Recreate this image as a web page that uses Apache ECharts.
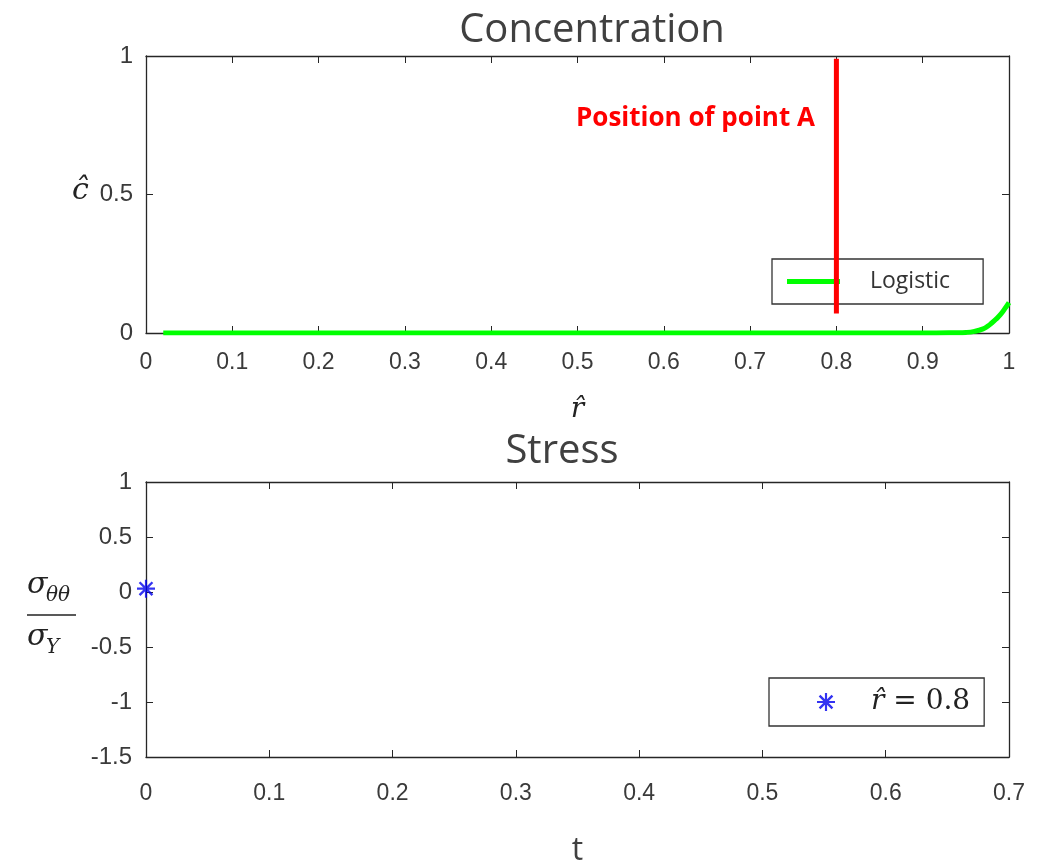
<!DOCTYPE html>
<html>
<head>
<meta charset="utf-8">
<script src="https://cdn.jsdelivr.net/npm/echarts@6/dist/echarts.min.js"></script>
<style>
  html, body { margin: 0; padding: 0; background: #fff; }
  #chart { width: 1046px; height: 863px; }
</style>
</head>
<body>
<div id="chart"></div>
<script>
// concentration profile (top)
const rHat = [0.02, 0.1, 0.2, 0.3, 0.4, 0.5, 0.6, 0.7, 0.8, 0.9, 0.94, 0.95, 0.96, 0.97, 0.975, 0.98, 0.985, 0.99, 0.995, 1.0];
const conc = [0, 0, 0, 0, 0, 0, 0, 0, 0, 0, 0.001, 0.002, 0.006, 0.015, 0.024, 0.036, 0.05, 0.066, 0.087, 0.11];
// position of point A (red marker line)
const pointA = 0.8;
const pointASpan = [0.07, 0.99];
// stress (bottom)
const tVals = [0];
const stressVals = [0.03];

const axisColor = '#262626';
const labelColor = '#3a3a3a';
const tickFont = 'Liberation Sans';

// asterisk marker like matlab '*'
const asterisk = 'path://M8.8 0H11.2V8.8H20V11.2H11.2V20H8.8V11.2H0V8.8H8.8Z M1.9 3.8L3.8 1.9L18.1 16.2L16.2 18.1Z M16.2 1.9L18.1 3.8L3.8 18.1L1.9 16.2Z';

function fmt(v) { return String(+v.toFixed(1)); }

function boxAxis(base, extra) {
  return Object.assign({
    type: 'value',
    axisLine: { show: true, onZero: false, lineStyle: { color: axisColor, width: 1.3 } },
    axisTick: { show: true, inside: true, length: 7, lineStyle: { color: axisColor } },
    splitLine: { show: false },
    axisLabel: { color: labelColor, fontSize: 24, fontFamily: tickFont, formatter: fmt }
  }, base, extra);
}

let myChart = echarts.init(document.getElementById('chart'));

let option = {
  backgroundColor: '#fff',
  animation: false,
  grid: [
    { left: 146, top: 56, width: 863, height: 277, outerBoundsMode: 'none', containLabel: false },
    { left: 146, top: 482, width: 863, height: 275, outerBoundsMode: 'none', containLabel: false }
  ],
  xAxis: [
    boxAxis({ gridIndex: 0, min: 0, max: 1, interval: 0.1, position: 'bottom' },
      { axisLabel: { color: labelColor, fontSize: 23, fontFamily: tickFont, margin: 18, formatter: fmt },
        name: 'r\u0302', nameLocation: 'middle', nameGap: 63,
        nameTextStyle: { fontFamily: 'DejaVu Serif', fontStyle: 'italic', fontSize: 28, color: '#222' } }),
    boxAxis({ gridIndex: 0, min: 0, max: 1, interval: 0.1, position: 'top' }, { axisLabel: { show: false } }),
    boxAxis({ gridIndex: 1, min: 0, max: 0.7, interval: 0.1, position: 'bottom' },
      { axisLabel: { color: labelColor, fontSize: 23, fontFamily: tickFont, margin: 25, formatter: fmt },
        name: 't', nameLocation: 'middle', nameGap: 78,
        nameTextStyle: { fontFamily: 'Open Sans', fontSize: 32, color: '#404040' } }),
    boxAxis({ gridIndex: 1, min: 0, max: 0.7, interval: 0.1, position: 'top' }, { axisLabel: { show: false } })
  ],
  yAxis: [
    boxAxis({ gridIndex: 0, min: 0, max: 1, interval: 0.5, position: 'left' },
      { axisLabel: { color: labelColor, fontSize: 24, fontFamily: tickFont, margin: 13, formatter: fmt } }),
    boxAxis({ gridIndex: 0, min: 0, max: 1, interval: 0.5, position: 'right' }, { axisLabel: { show: false } }),
    boxAxis({ gridIndex: 1, min: -1.5, max: 1, interval: 0.5, position: 'left' },
      { axisLabel: { color: labelColor, fontSize: 24, fontFamily: tickFont, margin: 14, formatter: fmt } }),
    boxAxis({ gridIndex: 1, min: -1.5, max: 1, interval: 0.5, position: 'right' }, { axisLabel: { show: false } })
  ],
  title: [
    { text: 'Concentration', left: 587, top: 6, textAlign: 'center',
      textStyle: { fontFamily: 'Open Sans', fontSize: 40, fontWeight: 'normal', color: '#404040' } },
    { text: 'Stress', left: 557, top: 427, textAlign: 'center',
      textStyle: { fontFamily: 'Open Sans', fontSize: 40, fontWeight: 'normal', color: '#404040' } }
  ],
  legend: [
    {
      data: ['Logistic'],
      left: 772, top: 259,
      orient: 'vertical',
      padding: [11, 33, 11, 15],
      backgroundColor: '#fff',
      borderColor: '#333', borderWidth: 1.3, borderRadius: 0,
      icon: 'rect',
      itemWidth: 53, itemHeight: 5,
      itemStyle: { color: '#00ff00' },
      textStyle: { fontFamily: 'Open Sans', fontSize: 23, color: '#333', padding: [0, 0, 0, 25] }
    },
    {
      data: ['r\u0302 = 0.8'],
      left: 769, top: 678,
      orient: 'vertical',
      padding: [10, 14, 10, 48],
      backgroundColor: '#fff',
      borderColor: '#333', borderWidth: 1.3, borderRadius: 0,
      itemWidth: 18, itemHeight: 18,
      formatter: function () { return '{i|r\u0302} = 0.8'; },
      textStyle: {
        fontFamily: 'DejaVu Serif', fontSize: 28, color: '#222', padding: [0, 0, 0, 31],
        rich: { i: { fontFamily: 'DejaVu Serif', fontStyle: 'italic', fontSize: 28, color: '#222' } }
      }
    }
  ],
  graphic: [
    // c-hat label
    { type: 'text', left: 72, top: 176,
      style: { text: '\u0109', font: 'italic 30px "DejaVu Serif"', fill: '#222' } },
    // sigma_theta_theta / sigma_Y
    { type: 'text', left: 27, top: 570,
      style: { text: '\u03c3', font: 'italic 30px "DejaVu Serif"', fill: '#222' } },
    { type: 'text', left: 46, top: 586,
      style: { text: '\u03b8\u03b8', font: 'italic 20px "DejaVu Serif"', fill: '#222' } },
    { type: 'line', shape: { x1: 27, y1: 615, x2: 76, y2: 615 }, style: { stroke: '#222', lineWidth: 1.5 } },
    { type: 'text', left: 27, top: 622,
      style: { text: '\u03c3', font: 'italic 30px "DejaVu Serif"', fill: '#222' } },
    { type: 'text', left: 46, top: 638,
      style: { text: 'Y', font: 'italic 20px "DejaVu Serif"', fill: '#222' } },
    // annotation
    { type: 'text', left: 576, top: 106, z: 20,
      style: { text: 'Position of point A', font: 'bold 26px "Open Sans"', fill: '#ff0000' } }
  ],
  series: [
    {
      name: 'Logistic',
      type: 'line',
      xAxisIndex: 0, yAxisIndex: 0,
      data: rHat.map((r, i) => [r, conc[i]]),
      symbol: 'none',
      smooth: true,
      lineStyle: { color: '#00ff00', width: 5 },
      itemStyle: { color: '#00ff00' },
      z: 3
    },
    {
      name: 'pointA',
      type: 'line',
      xAxisIndex: 0, yAxisIndex: 0,
      data: pointASpan.map(v => [pointA, v]),
      symbol: 'none',
      lineStyle: { color: '#ff0000', width: 5 },
      z: 10
    },
    {
      name: 'r\u0302 = 0.8',
      type: 'scatter',
      xAxisIndex: 2, yAxisIndex: 2,
      data: tVals.map((t, i) => [t, stressVals[i]]),
      symbol: asterisk,
      symbolSize: 18,
      itemStyle: { color: '#0000ee' },
      z: 10
    }
  ]
};

myChart.setOption(option);
</script>
</body>
</html>
